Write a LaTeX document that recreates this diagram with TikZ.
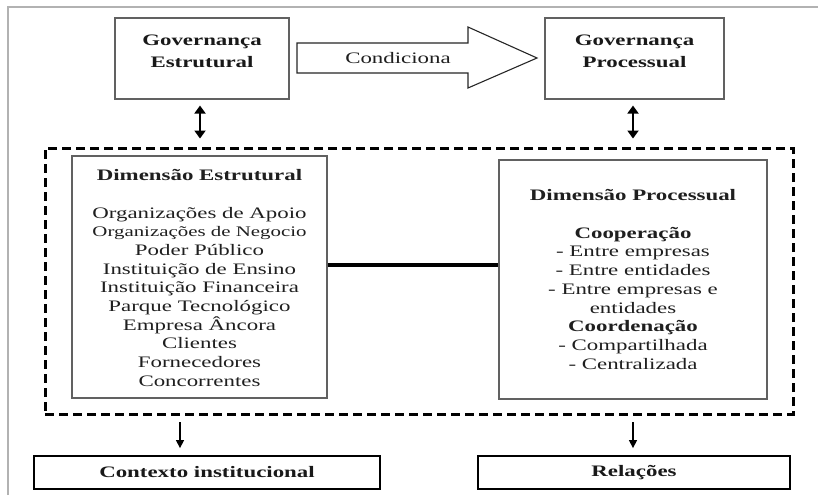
\documentclass[tikz,border=0pt]{standalone}
\usepackage{fontspec}
\setmainfont[FakeStretch=1.43]{Liberation Serif}
\usetikzlibrary{arrows.meta,calc}
\begin{document}
\begin{tikzpicture}[x=1pt,y=-1pt,
  graybox/.style={draw=black!62, line width=1.1pt, inner sep=0pt},
  blackbox/.style={draw=black, line width=1.8pt, inner sep=0pt},
  txt/.style={inner sep=0pt, align=center, text=black!88, font=\fontsize{16}{18.7}\selectfont},
  hdr/.style={inner sep=0pt, align=center, text=black!90, font=\fontsize{16}{22}\selectfont\bfseries},
  dbl/.style={{Triangle[width=11pt,length=8pt]}-{Triangle[width=11pt,length=8pt]}, line width=1.8pt},
  dn/.style={-{Triangle[width=8pt,length=8pt]}, line width=1.3pt},
  dashbox/.style={draw=black, line width=3pt, dash pattern=on 9pt off 5pt, inner sep=0pt}]
\useasboundingbox (0,0) rectangle (818,495);
% outer frame (partial)
\draw[black!30, line width=1.2pt] (8,495) -- (8,7) -- (818,7);

% top boxes
\node[graybox, minimum width=174pt, minimum height=81pt] (geBox) at (202,58.5) {};
\node[hdr] (geText) at (202,51) {Governança\\Estrutural};
\node[graybox, minimum width=179pt, minimum height=81pt] (gpBox) at (634.5,58.5) {};
\node[hdr] (gpText) at (634.5,51) {Governança\\Processual};

% big hollow arrow
\draw[black!85, line width=1.1pt, fill=white] (297,43) -- (468,43) -- (468,27) -- (537,58) -- (468,88) -- (468,73) -- (297,73) -- cycle;
\node[txt] (cond) at (398,58) {Condiciona};

% dashed container
\node[dashbox, minimum width=748pt, minimum height=266pt] (dimBox) at (419,281) {};

% inner boxes
\node[graybox, minimum width=255pt, minimum height=242pt] (deBox) at (199.5,277) {};
\node[txt] (deText) at (199.5,278) {\textbf{Dimensão Estrutural}\\[18.7pt]
Organizações de Apoio\\
{\fontsize{14.6}{18.7}\selectfont Organizações de Negocio}\\
Poder Público\\
Instituição de Ensino\\
Instituição Financeira\\
Parque Tecnológico\\
Empresa Âncora\\
Clientes\\
Fornecedores\\
Concorrentes};

\node[graybox, minimum width=268pt, minimum height=239pt] (dpBox) at (633,279.5) {};
\node[txt] (dpText) at (633,279.5) {\textbf{Dimensão Processual}\\[18.7pt]
\textbf{Cooperação}\\
- Entre empresas\\
- Entre entidades\\
- Entre empresas e\\
entidades\\
\textbf{Coordenação}\\
- Compartilhada\\
- Centralizada};

% thick connector
\draw[line width=3.5pt] ([yshift=12pt]deBox.east) -- ([yshift=12pt]deBox.east -| dpBox.west);

% double arrows
\draw[dbl] ($(geBox.south)+(-2,6)$) -- ($(geBox.south)+(-2,39)$);
\draw[dbl] ($(gpBox.south)+(-1.5,6)$) -- ($(gpBox.south)+(-1.5,39)$);

% bottom boxes
\node[blackbox, minimum width=346pt, minimum height=33pt, font=\fontsize{16}{18.7}\selectfont\bfseries, text=black!90] (ciBox) at (207,472.5) {Contexto institucional};
\node[blackbox, minimum width=312pt, minimum height=33pt, font=\fontsize{16}{18.7}\selectfont\bfseries, text=black!90] (relBox) at (634,472.5) {Relações};

% down arrows
\draw[dn] ($(ciBox.north)+(-27,-33)$) -- ($(ciBox.north)+(-27,-7)$);
\draw[dn] ($(relBox.north)+(-1,-33)$) -- ($(relBox.north)+(-1,-7)$);
\end{tikzpicture}
\end{document}
